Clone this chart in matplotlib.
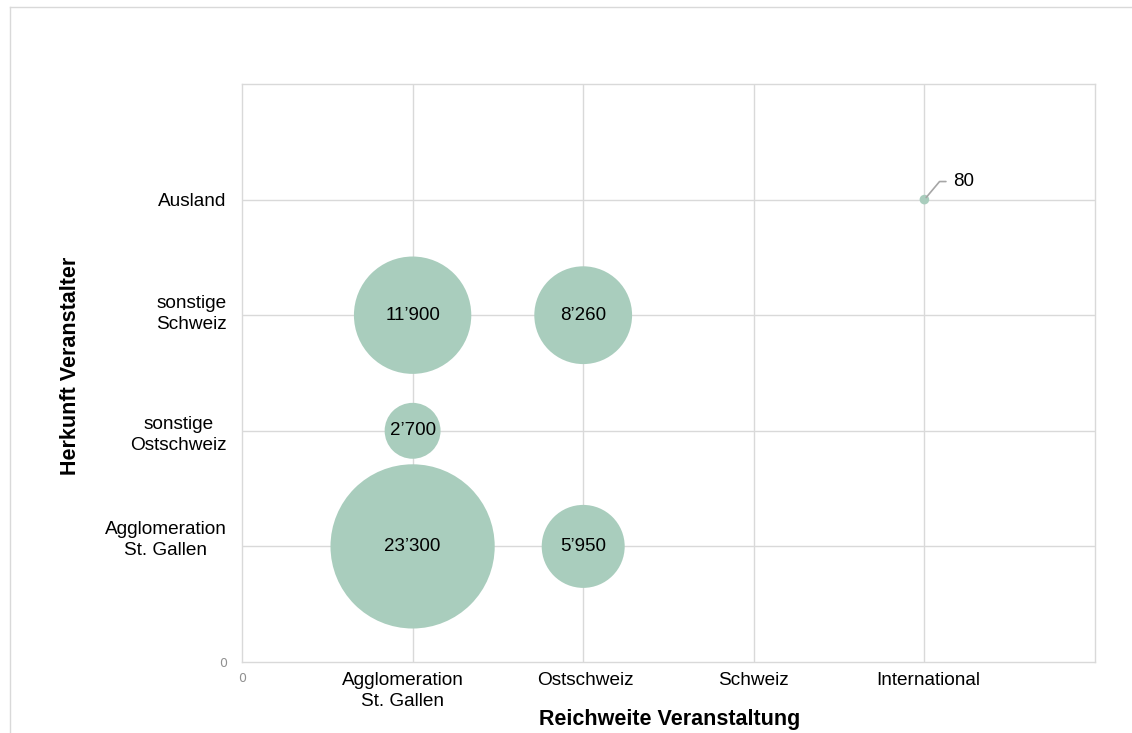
import matplotlib
matplotlib.use("Agg")
import matplotlib.pyplot as plt
from matplotlib.lines import Line2D
import matplotlib.transforms as mtransforms

plt.rcParams['font.family'] = ['Liberation Sans', 'DejaVu Sans']

# ---- data ----
reach_categories = ['Agglomeration\nSt. Gallen', 'Ostschweiz', 'Schweiz', 'International']
origin_categories = ['Agglomeration\nSt. Gallen', 'sonstige\nOstschweiz', 'sonstige\nSchweiz', 'Ausland']

point_reach = ['Agglomeration\nSt. Gallen', 'Agglomeration\nSt. Gallen', 'Agglomeration\nSt. Gallen',
               'Ostschweiz', 'Ostschweiz', 'International']
point_origin = ['Agglomeration\nSt. Gallen', 'sonstige\nOstschweiz', 'sonstige\nSchweiz',
                'Agglomeration\nSt. Gallen', 'sonstige\nSchweiz', 'Ausland']
point_values = [23300, 2700, 11900, 5950, 8260, 80]

# ---- style ----
bubble_color = '#a9cdbd'
grid_color = '#d9d9d9'
size_factor = 0.6

W, H = 1132, 733
fig = plt.figure(figsize=(W / 100, H / 100), dpi=100)
ax = fig.add_axes([242 / W, 1 - 662 / H, (1095 - 242) / W, (662 - 84) / H])

xs = [reach_categories.index(r) + 1 for r in point_reach]
ys = [origin_categories.index(o) + 1 for o in point_origin]
sizes = [v * size_factor for v in point_values]

ax.set_xlim(0, 5)
ax.set_ylim(0, 5)
ax.set_axisbelow(True)
for v in range(1, 5):
    ax.axvline(v, color=grid_color, lw=1, zorder=0)
    ax.axhline(v, color=grid_color, lw=1, zorder=0)

ax.scatter(xs, ys, s=sizes, color=bubble_color, edgecolors='none', zorder=2)

def fmt(v):
    return f"{v:,}".replace(",", "\u2019")

for x, y, v in zip(xs, ys, point_values):
    if v >= 1000:
        ax.text(x, y, fmt(v), ha='center', va='center', fontsize=13.5, color='black', zorder=3)
    else:
        ax.annotate(fmt(v), xy=(x, y), xytext=(21, 13), textcoords='offset points',
                    ha='left', va='center', fontsize=13.5, color='black',
                    arrowprops=dict(arrowstyle='-', color='#a6a6a6', lw=1.2,
                                    shrinkA=3.5, shrinkB=2, relpos=(0, 0.5),
                                    connectionstyle='angle,angleA=0,angleB=50,rad=0'))

for sp in ax.spines.values():
    sp.set_color(grid_color)
    sp.set_linewidth(1)

ax.set_xticks(range(0, 5))
ax.set_xticklabels(['0'] + reach_categories)
ax.set_yticks(range(0, 5))
ax.set_yticklabels(['0'] + origin_categories)
ax.tick_params(length=0)
for lbl in ax.get_xticklabels():
    lbl.set_fontsize(13.7)
    lbl.set_multialignment('center')
    lbl.set_linespacing(1.3)
for lbl in ax.get_yticklabels():
    lbl.set_fontsize(13.7)
    lbl.set_multialignment('center')
    lbl.set_linespacing(1.3)
ax.tick_params(axis='x', pad=7)
ax.tick_params(axis='y', pad=11)
xl = ax.get_xticklabels()[0]
xl.set_fontsize(9); xl.set_color('#909090'); xl.set_family('DejaVu Sans')
yl = ax.get_yticklabels()[0]
yl.set_fontsize(9); yl.set_color('#909090'); yl.set_family('DejaVu Sans')

def nudge(lbl, dx_px, dy_px):
    lbl.set_transform(lbl.get_transform() +
                      mtransforms.ScaledTranslation(dx_px / 100, dy_px / 100, fig.dpi_scale_trans))

nudge(ax.get_xticklabels()[1], -10, 0)
nudge(ax.get_xticklabels()[2], 2, 0)
nudge(ax.get_xticklabels()[4], 4, 0)
nudge(ax.get_yticklabels()[1], 0, 10)
nudge(ax.get_yticklabels()[3], 0, 5)

fig.text(670 / W, 1 - 719 / H, 'Reichweite Veranstaltung', ha='center', va='center',
         fontsize=15.5, fontweight='bold')
fig.text(70 / W, 1 - 366 / H, 'Herkunft Veranstalter', ha='center', va='center',
         fontsize=15.5, fontweight='bold', rotation=90)

# outer frame
fig.add_artist(Line2D([10 / W, 10 / W], [0, 1 - 7 / H], transform=fig.transFigure,
                      color=grid_color, lw=1))
fig.add_artist(Line2D([10 / W, 1131 / W], [1 - 7 / H, 1 - 7 / H], transform=fig.transFigure,
                      color=grid_color, lw=1))

fig.savefig('out.png', dpi=100)
